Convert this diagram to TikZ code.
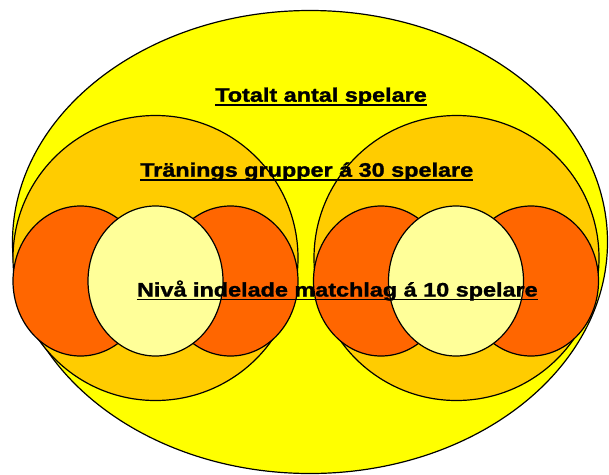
\documentclass[tikz,border=0pt]{standalone}
\usepackage{fontspec}
\newfontfamily\lagfont{Liberation Sans}[FakeStretch=1.2, FakeBold=1.5]
\usetikzlibrary{shapes.geometric}
\definecolor{myyellow}{rgb}{1, 1, 0}
\definecolor{mygold}{rgb}{1, 0.8, 0}
\definecolor{myorange}{rgb}{1, 0.4, 0}
\definecolor{mylight}{rgb}{1, 1, 0.6}
\tikzset{
  blob/.style={ellipse, draw, line width=1.2pt, inner sep=0pt},
  whole/.style={blob, fill=myyellow, minimum width=595pt, minimum height=463pt},
  squad/.style={blob, fill=mygold, minimum size=285pt},
  side/.style={blob, fill=myorange, minimum width=135pt, minimum height=150pt},
  team/.style={blob, fill=mylight, minimum width=135pt, minimum height=150pt},
  title/.style={inner sep=0pt, anchor=base, font=\lagfont\bfseries\fontsize{19.5}{23}\selectfont},
  uline/.style={draw, line width=1.6pt}
}

\begin{document}
\begin{tikzpicture}[x=1pt,y=-1pt]
\useasboundingbox (0,0) rectangle (609,474);

% circles
\node [whole] (total) at (310,242) {};

\node [squad] (grpL) at (155.5,258) {};
\node [squad] (grpR) at (456.5,258) {};

\node [side] (sideLL) at (80.5,281) {};
\node [side] (sideLR) at (230.5,281) {};
\node [team] (teamL) at (155.5,281) {};

\node [side] (sideRL) at (381,281) {};
\node [side] (sideRR) at (531,281) {};
\node [team] (teamR) at (456,281) {};

% labels
\node [title] (tot) at (321,101.7) {Totalt antal spelare};
\node [title] (grp) at (306.7,176.7) {Tränings grupper á 30 spelare};
\node [title] (lag) at (337.4,296.5) {Nivå indelade matchlag á 10 spelare};

\draw [uline] ([yshift=-3pt]tot.base west) -- ([yshift=-3pt]tot.base east);
\draw [uline] ([yshift=-3pt]grp.base west) -- ([yshift=-3pt]grp.base east);
\draw [uline] ([yshift=-3pt]lag.base west) -- ([yshift=-3pt]lag.base east);

\end{tikzpicture}
\end{document}
